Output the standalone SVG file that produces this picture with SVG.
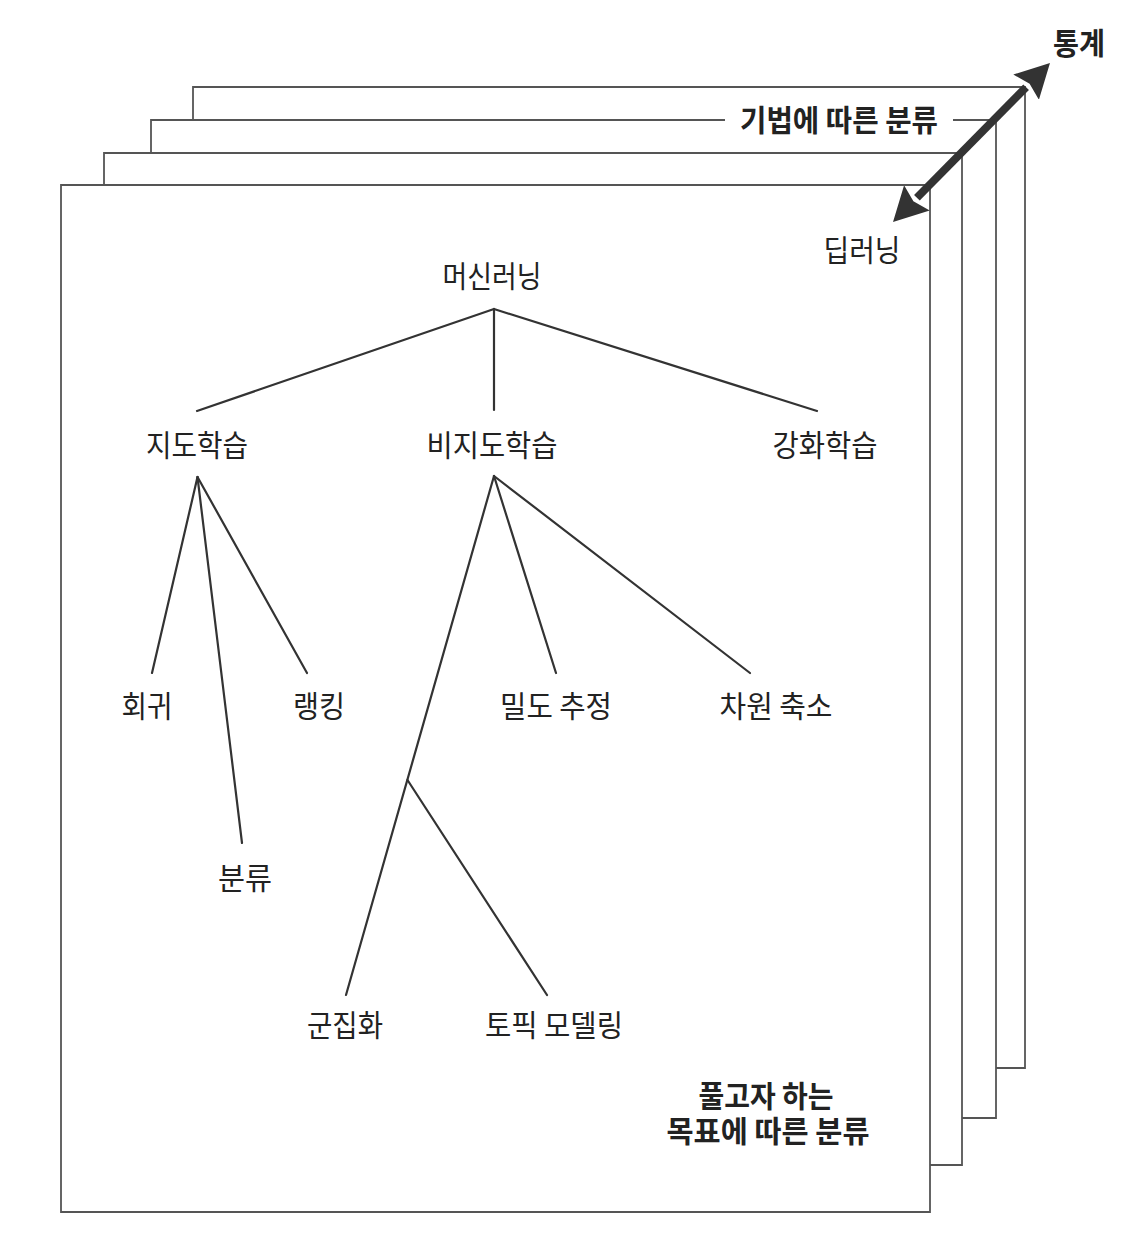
<svg xmlns="http://www.w3.org/2000/svg" width="1138" height="1240" viewBox="0 0 1138 1240">
<style>
  .page { fill: #ffffff; stroke: none; }
  .edge { fill: none; stroke: #555; stroke-width: 1.8; }
  .lbl { font-family: "Noto Sans CJK KR", "Noto Sans", sans-serif; font-size: 30px; fill: #222; text-anchor: middle; }
  .bold { font-weight: 700; }
  .conn { stroke: #333; stroke-width: 2.2; fill: none; stroke-linecap: round; }
  .arrow { stroke: #333; stroke-width: 8; fill: none; }
</style>
<defs>
  <marker id="head" markerUnits="userSpaceOnUse" viewBox="0 -19 36 38" markerWidth="36" markerHeight="38" refX="0" refY="0" orient="auto-start-reverse">
    <path d="M0,-18 L34,0 L0,18 L5,0 z" fill="#333"/>
  </marker>
</defs>
<rect width="1138" height="1240" fill="#ffffff"/>

<g id="page4">
  <rect class="page" x="193" y="87" width="832" height="981"/>
  <path class="edge" d="M193,87 H1025 V1068 H193 Z"/>
</g>
<g id="page3">
  <rect class="page" x="151" y="120" width="845" height="998"/>
  <path class="edge" d="M725,120 H151 V1118 H996 V120 H953"/>
  <text class="lbl bold" x="839" y="131" textLength="198" lengthAdjust="spacingAndGlyphs">기법에 따른 분류</text>
</g>
<g id="page2">
  <rect class="page" x="104" y="153" width="858" height="1012"/>
  <path class="edge" d="M104,153 H962 V1165 H104 Z"/>
</g>
<g id="page1">
  <rect class="page" x="61" y="185" width="869" height="1027"/>
  <path class="edge" d="M61,185 H930 V1212 H61 Z"/>
</g>

<g id="connectors">
  <line class="arrow" x1="916.9" y1="197.8" x2="1026.1" y2="87.2" marker-start="url(#head)" marker-end="url(#head)"/>
  <line class="conn" x1="494" y1="309" x2="197" y2="411"/>
  <line class="conn" x1="494" y1="309" x2="494" y2="410"/>
  <line class="conn" x1="494" y1="309" x2="817" y2="411"/>
  <line class="conn" x1="197.5" y1="477" x2="152" y2="673"/>
  <line class="conn" x1="197.5" y1="477" x2="242" y2="843"/>
  <line class="conn" x1="197.5" y1="477" x2="307" y2="673"/>
  <line class="conn" x1="494" y1="476" x2="346" y2="995"/>
  <line class="conn" x1="494" y1="476" x2="556" y2="673"/>
  <line class="conn" x1="494" y1="476" x2="750" y2="673"/>
  <line class="conn" x1="407.5" y1="780" x2="547" y2="995"/>
</g>

<g id="n-stats"><text class="lbl bold" x="1079" y="54" textLength="52" lengthAdjust="spacingAndGlyphs">통계</text></g>
<g id="n-deep"><text class="lbl" x="862" y="261" textLength="77" lengthAdjust="spacingAndGlyphs">딥러닝</text></g>
<g id="n-ml"><text class="lbl" x="492" y="287" textLength="99" lengthAdjust="spacingAndGlyphs">머신러닝</text></g>
<g id="n-sup"><text class="lbl" x="197" y="456" textLength="102" lengthAdjust="spacingAndGlyphs">지도학습</text></g>
<g id="n-unsup"><text class="lbl" x="492" y="456" textLength="131" lengthAdjust="spacingAndGlyphs">비지도학습</text></g>
<g id="n-rl"><text class="lbl" x="825" y="456" textLength="105" lengthAdjust="spacingAndGlyphs">강화학습</text></g>
<g id="n-reg"><text class="lbl" x="147" y="717" textLength="51" lengthAdjust="spacingAndGlyphs">회귀</text></g>
<g id="n-rank"><text class="lbl" x="319" y="717" textLength="52" lengthAdjust="spacingAndGlyphs">랭킹</text></g>
<g id="n-cls"><text class="lbl" x="245" y="889" textLength="54" lengthAdjust="spacingAndGlyphs">분류</text></g>
<g id="n-dens"><text class="lbl" x="556" y="717" textLength="112" lengthAdjust="spacingAndGlyphs">밀도 추정</text></g>
<g id="n-dim"><text class="lbl" x="776" y="717" textLength="113" lengthAdjust="spacingAndGlyphs">차원 축소</text></g>
<g id="n-clu"><text class="lbl" x="345" y="1036" textLength="76" lengthAdjust="spacingAndGlyphs">군집화</text></g>
<g id="n-topic"><text class="lbl" x="554" y="1036" textLength="138" lengthAdjust="spacingAndGlyphs">토픽 모델링</text></g>
<g id="n-goal">
  <text class="lbl bold"><tspan x="766" y="1107" textLength="135" lengthAdjust="spacingAndGlyphs">풀고자 하는</tspan><tspan x="768" y="1142" textLength="203" lengthAdjust="spacingAndGlyphs">목표에 따른 분류</tspan></text>
</g>
</svg>
